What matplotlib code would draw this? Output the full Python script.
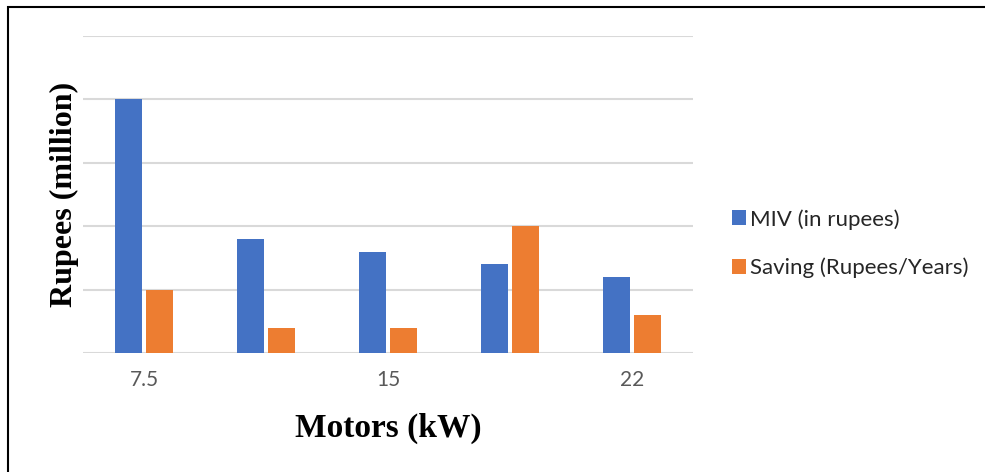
import matplotlib.pyplot as plt
import numpy as np
from matplotlib.patches import Rectangle

categories = ["7.5", "", "15", "", "22"]
miv = [4.0, 1.8, 1.6, 1.4, 1.2]
saving = [1.0, 0.4, 0.4, 2.0, 0.6]
series_names = ["MIV (in rupees)", "Saving (Rupees/Years)"]

color_miv = "#4472C4"
color_saving = "#ED7D31"

fig = plt.figure(figsize=(9.85, 4.72), dpi=100)
ax = fig.add_axes([83 / 985, 119 / 472, 610 / 985, 317 / 472])

x = np.arange(len(categories))
width = 0.22
gap = 0.03
ax.bar(x - (width + gap) / 2, miv, width, color=color_miv, label=series_names[0], zorder=3)
ax.bar(x + (width + gap) / 2, saving, width, color=color_saving, label=series_names[1], zorder=3)

ax.set_xlim(-0.5, len(categories) - 0.5)
ax.set_ylim(0, 5)
ax.set_yticks(np.arange(0, 6))
ax.set_yticklabels([])
ax.yaxis.grid(True, color="#D9D9D9", linewidth=1.5, zorder=0)
ax.tick_params(axis="both", length=0)
ax.set_xticks(x)
ax.set_xticklabels(categories, fontsize=15, color="#595959", family="Lato")
ax.tick_params(axis="x", pad=12)
for s in ax.spines.values():
    s.set_visible(False)

ax.set_xlabel("Motors (kW)", fontsize=24, fontweight="bold", family="Liberation Serif")
ax.xaxis.set_label_coords(0.5, -0.19)
ax.set_ylabel("Rupees (million)", fontsize=23, fontweight="bold", family="Liberation Serif")
ax.yaxis.set_label_coords(-0.03, 0.5)
ax.yaxis.label.set_va("center")

leg = fig.legend(loc="upper left", bbox_to_anchor=(712 / 985, 1 - 189 / 472), frameon=False,
                 prop={"family": "Lato", "size": 16}, handlelength=0.65, handleheight=0.65,
                 handletextpad=0.15, labelspacing=1.25)
for t in leg.get_texts():
    t.set_color("#262626")

fig.patches.append(Rectangle((8 / 985, -0.05), 1.1, 1.05 - 7 / 472, transform=fig.transFigure,
                             fill=False, edgecolor="black", linewidth=1.5))

fig.savefig("out.png", dpi=100)
